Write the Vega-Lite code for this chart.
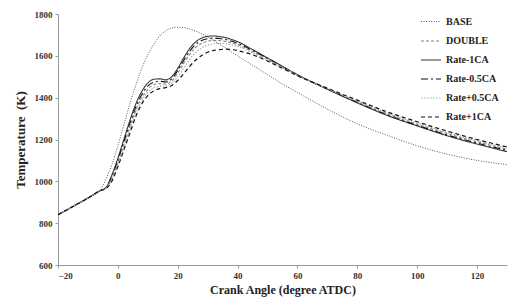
{
  "$schema": "https://vega.github.io/schema/vega-lite/v6.json",
  "width": 449,
  "height": 251,
  "autosize": {"type": "none"},
  "padding": {"left": 58, "top": 14, "right": 2, "bottom": 35},
  "background": "white",
  "config": {
    "view": {"stroke": null},
    "axis": {
      "grid": false,
      "labelFont": "Liberation Serif",
      "labelFontWeight": "bold",
      "labelFontSize": 9,
      "labelColor": "#333",
      "titleFont": "Liberation Serif",
      "titleFontWeight": "bold",
      "titleFontSize": 12,
      "titleColor": "#222",
      "domainColor": "#999",
      "tickColor": "#999",
      "tickSize": 3
    },
    "legend": {
      "labelFont": "Liberation Serif",
      "labelFontWeight": "bold",
      "labelFontSize": 10,
      "labelColor": "#222",
      "symbolType": "stroke",
      "symbolSize": 400,
      "rowPadding": 3
    }
  },
  "data": {"values": [
    {"series":"BASE","angle":-20,"temp":840},{"series":"BASE","angle":-15,"temp":880},{"series":"BASE","angle":-10,"temp":920},
    {"series":"BASE","angle":-6,"temp":957},{"series":"BASE","angle":-4,"temp":1010},{"series":"BASE","angle":-2,"temp":1080},{"series":"BASE","angle":0,"temp":1170},{"series":"BASE","angle":2,"temp":1270},{"series":"BASE","angle":4,"temp":1370},{"series":"BASE","angle":6,"temp":1460},{"series":"BASE","angle":8,"temp":1540},{"series":"BASE","angle":10,"temp":1605},{"series":"BASE","angle":12,"temp":1655},{"series":"BASE","angle":14,"temp":1695},{"series":"BASE","angle":16,"temp":1720},{"series":"BASE","angle":18,"temp":1733},{"series":"BASE","angle":20,"temp":1737},{"series":"BASE","angle":22,"temp":1735},{"series":"BASE","angle":24,"temp":1728},{"series":"BASE","angle":26,"temp":1718},{"series":"BASE","angle":28,"temp":1705},{"series":"BASE","angle":30,"temp":1690},{"series":"BASE","angle":32,"temp":1673},{"series":"BASE","angle":34,"temp":1655},{"series":"BASE","angle":36,"temp":1637},{"series":"BASE","angle":38,"temp":1618},{"series":"BASE","angle":40,"temp":1600},{"series":"BASE","angle":45,"temp":1555},{"series":"BASE","angle":50,"temp":1510},{"series":"BASE","angle":55,"temp":1465},{"series":"BASE","angle":60,"temp":1425},{"series":"BASE","angle":70,"temp":1345},{"series":"BASE","angle":80,"temp":1275},{"series":"BASE","angle":90,"temp":1220},{"series":"BASE","angle":100,"temp":1170},{"series":"BASE","angle":110,"temp":1130},{"series":"BASE","angle":120,"temp":1100},{"series":"BASE","angle":130,"temp":1080},

    {"series":"Rate-1CA","angle":-20,"temp":840},{"series":"Rate-1CA","angle":-15,"temp":880},{"series":"Rate-1CA","angle":-10,"temp":920},
    {"series":"Rate-1CA","angle":-6,"temp":955},{"series":"Rate-1CA","angle":-4,"temp":970},{"series":"Rate-1CA","angle":-2,"temp":1030},{"series":"Rate-1CA","angle":0,"temp":1110},{"series":"Rate-1CA","angle":2,"temp":1200},{"series":"Rate-1CA","angle":4,"temp":1290},{"series":"Rate-1CA","angle":6,"temp":1370},{"series":"Rate-1CA","angle":8,"temp":1430},{"series":"Rate-1CA","angle":10,"temp":1470},{"series":"Rate-1CA","angle":12,"temp":1488},{"series":"Rate-1CA","angle":14,"temp":1490},{"series":"Rate-1CA","angle":16,"temp":1485},{"series":"Rate-1CA","angle":18,"temp":1500},{"series":"Rate-1CA","angle":20,"temp":1540},{"series":"Rate-1CA","angle":22,"temp":1590},{"series":"Rate-1CA","angle":24,"temp":1635},{"series":"Rate-1CA","angle":26,"temp":1667},{"series":"Rate-1CA","angle":28,"temp":1685},{"series":"Rate-1CA","angle":30,"temp":1693},{"series":"Rate-1CA","angle":32,"temp":1695},{"series":"Rate-1CA","angle":34,"temp":1692},{"series":"Rate-1CA","angle":36,"temp":1687},{"series":"Rate-1CA","angle":38,"temp":1678},{"series":"Rate-1CA","angle":40,"temp":1668},{"series":"Rate-1CA","angle":45,"temp":1630},{"series":"Rate-1CA","angle":50,"temp":1590},{"series":"Rate-1CA","angle":55,"temp":1550},{"series":"Rate-1CA","angle":60,"temp":1510},{"series":"Rate-1CA","angle":70,"temp":1440},{"series":"Rate-1CA","angle":80,"temp":1375},{"series":"Rate-1CA","angle":90,"temp":1315},{"series":"Rate-1CA","angle":100,"temp":1265},{"series":"Rate-1CA","angle":110,"temp":1218},{"series":"Rate-1CA","angle":120,"temp":1178},{"series":"Rate-1CA","angle":130,"temp":1142},

    {"series":"Rate-0.5CA","angle":-20,"temp":840},{"series":"Rate-0.5CA","angle":-15,"temp":880},{"series":"Rate-0.5CA","angle":-10,"temp":920},
    {"series":"Rate-0.5CA","angle":-6,"temp":955},{"series":"Rate-0.5CA","angle":-4,"temp":968},{"series":"Rate-0.5CA","angle":-2,"temp":1022},{"series":"Rate-0.5CA","angle":0,"temp":1100},{"series":"Rate-0.5CA","angle":2,"temp":1188},{"series":"Rate-0.5CA","angle":4,"temp":1275},{"series":"Rate-0.5CA","angle":6,"temp":1355},{"series":"Rate-0.5CA","angle":8,"temp":1415},{"series":"Rate-0.5CA","angle":10,"temp":1455},{"series":"Rate-0.5CA","angle":12,"temp":1474},{"series":"Rate-0.5CA","angle":14,"temp":1478},{"series":"Rate-0.5CA","angle":16,"temp":1475},{"series":"Rate-0.5CA","angle":18,"temp":1490},{"series":"Rate-0.5CA","angle":20,"temp":1530},{"series":"Rate-0.5CA","angle":22,"temp":1578},{"series":"Rate-0.5CA","angle":24,"temp":1622},{"series":"Rate-0.5CA","angle":26,"temp":1655},{"series":"Rate-0.5CA","angle":28,"temp":1673},{"series":"Rate-0.5CA","angle":30,"temp":1682},{"series":"Rate-0.5CA","angle":32,"temp":1685},{"series":"Rate-0.5CA","angle":34,"temp":1683},{"series":"Rate-0.5CA","angle":36,"temp":1678},{"series":"Rate-0.5CA","angle":38,"temp":1670},{"series":"Rate-0.5CA","angle":40,"temp":1660},{"series":"Rate-0.5CA","angle":45,"temp":1625},{"series":"Rate-0.5CA","angle":50,"temp":1587},{"series":"Rate-0.5CA","angle":55,"temp":1548},{"series":"Rate-0.5CA","angle":60,"temp":1508},{"series":"Rate-0.5CA","angle":70,"temp":1441},{"series":"Rate-0.5CA","angle":80,"temp":1378},{"series":"Rate-0.5CA","angle":90,"temp":1318},{"series":"Rate-0.5CA","angle":100,"temp":1268},{"series":"Rate-0.5CA","angle":110,"temp":1222},{"series":"Rate-0.5CA","angle":120,"temp":1183},{"series":"Rate-0.5CA","angle":130,"temp":1148},

    {"series":"DOUBLE","angle":-20,"temp":840},{"series":"DOUBLE","angle":-15,"temp":880},{"series":"DOUBLE","angle":-10,"temp":920},
    {"series":"DOUBLE","angle":-6,"temp":955},{"series":"DOUBLE","angle":-4,"temp":967},{"series":"DOUBLE","angle":-2,"temp":1015},{"series":"DOUBLE","angle":0,"temp":1090},{"series":"DOUBLE","angle":2,"temp":1175},{"series":"DOUBLE","angle":4,"temp":1262},{"series":"DOUBLE","angle":6,"temp":1340},{"series":"DOUBLE","angle":8,"temp":1400},{"series":"DOUBLE","angle":10,"temp":1440},{"series":"DOUBLE","angle":12,"temp":1462},{"series":"DOUBLE","angle":14,"temp":1467},{"series":"DOUBLE","angle":16,"temp":1465},{"series":"DOUBLE","angle":18,"temp":1480},{"series":"DOUBLE","angle":20,"temp":1518},{"series":"DOUBLE","angle":22,"temp":1565},{"series":"DOUBLE","angle":24,"temp":1607},{"series":"DOUBLE","angle":26,"temp":1640},{"series":"DOUBLE","angle":28,"temp":1660},{"series":"DOUBLE","angle":30,"temp":1670},{"series":"DOUBLE","angle":32,"temp":1674},{"series":"DOUBLE","angle":34,"temp":1673},{"series":"DOUBLE","angle":36,"temp":1669},{"series":"DOUBLE","angle":38,"temp":1662},{"series":"DOUBLE","angle":40,"temp":1653},{"series":"DOUBLE","angle":45,"temp":1620},{"series":"DOUBLE","angle":50,"temp":1584},{"series":"DOUBLE","angle":55,"temp":1546},{"series":"DOUBLE","angle":60,"temp":1507},{"series":"DOUBLE","angle":70,"temp":1442},{"series":"DOUBLE","angle":80,"temp":1381},{"series":"DOUBLE","angle":90,"temp":1322},{"series":"DOUBLE","angle":100,"temp":1273},{"series":"DOUBLE","angle":110,"temp":1228},{"series":"DOUBLE","angle":120,"temp":1189},{"series":"DOUBLE","angle":130,"temp":1154},

    {"series":"Rate+0.5CA","angle":-20,"temp":840},{"series":"Rate+0.5CA","angle":-15,"temp":880},{"series":"Rate+0.5CA","angle":-10,"temp":920},
    {"series":"Rate+0.5CA","angle":-6,"temp":955},{"series":"Rate+0.5CA","angle":-4,"temp":966},{"series":"Rate+0.5CA","angle":-2,"temp":1008},{"series":"Rate+0.5CA","angle":0,"temp":1080},{"series":"Rate+0.5CA","angle":2,"temp":1162},{"series":"Rate+0.5CA","angle":4,"temp":1246},{"series":"Rate+0.5CA","angle":6,"temp":1325},{"series":"Rate+0.5CA","angle":8,"temp":1385},{"series":"Rate+0.5CA","angle":10,"temp":1425},{"series":"Rate+0.5CA","angle":12,"temp":1447},{"series":"Rate+0.5CA","angle":14,"temp":1455},{"series":"Rate+0.5CA","angle":16,"temp":1456},{"series":"Rate+0.5CA","angle":18,"temp":1468},{"series":"Rate+0.5CA","angle":20,"temp":1500},{"series":"Rate+0.5CA","angle":22,"temp":1542},{"series":"Rate+0.5CA","angle":24,"temp":1583},{"series":"Rate+0.5CA","angle":26,"temp":1616},{"series":"Rate+0.5CA","angle":28,"temp":1638},{"series":"Rate+0.5CA","angle":30,"temp":1651},{"series":"Rate+0.5CA","angle":32,"temp":1658},{"series":"Rate+0.5CA","angle":34,"temp":1660},{"series":"Rate+0.5CA","angle":36,"temp":1658},{"series":"Rate+0.5CA","angle":38,"temp":1653},{"series":"Rate+0.5CA","angle":40,"temp":1645},{"series":"Rate+0.5CA","angle":45,"temp":1614},{"series":"Rate+0.5CA","angle":50,"temp":1580},{"series":"Rate+0.5CA","angle":55,"temp":1543},{"series":"Rate+0.5CA","angle":60,"temp":1506},{"series":"Rate+0.5CA","angle":70,"temp":1443},{"series":"Rate+0.5CA","angle":80,"temp":1384},{"series":"Rate+0.5CA","angle":90,"temp":1327},{"series":"Rate+0.5CA","angle":100,"temp":1279},{"series":"Rate+0.5CA","angle":110,"temp":1234},{"series":"Rate+0.5CA","angle":120,"temp":1195},{"series":"Rate+0.5CA","angle":130,"temp":1160},

    {"series":"Rate+1CA","angle":-20,"temp":840},{"series":"Rate+1CA","angle":-15,"temp":880},{"series":"Rate+1CA","angle":-10,"temp":920},
    {"series":"Rate+1CA","angle":-6,"temp":955},{"series":"Rate+1CA","angle":-4,"temp":965},{"series":"Rate+1CA","angle":-2,"temp":1000},{"series":"Rate+1CA","angle":0,"temp":1070},{"series":"Rate+1CA","angle":2,"temp":1150},{"series":"Rate+1CA","angle":4,"temp":1230},{"series":"Rate+1CA","angle":6,"temp":1310},{"series":"Rate+1CA","angle":8,"temp":1370},{"series":"Rate+1CA","angle":10,"temp":1410},{"series":"Rate+1CA","angle":12,"temp":1432},{"series":"Rate+1CA","angle":14,"temp":1443},{"series":"Rate+1CA","angle":16,"temp":1448},{"series":"Rate+1CA","angle":18,"temp":1458},{"series":"Rate+1CA","angle":20,"temp":1482},{"series":"Rate+1CA","angle":22,"temp":1515},{"series":"Rate+1CA","angle":24,"temp":1550},{"series":"Rate+1CA","angle":26,"temp":1580},{"series":"Rate+1CA","angle":28,"temp":1602},{"series":"Rate+1CA","angle":30,"temp":1617},{"series":"Rate+1CA","angle":32,"temp":1626},{"series":"Rate+1CA","angle":34,"temp":1630},{"series":"Rate+1CA","angle":36,"temp":1632},{"series":"Rate+1CA","angle":38,"temp":1630},{"series":"Rate+1CA","angle":40,"temp":1625},{"series":"Rate+1CA","angle":45,"temp":1605},{"series":"Rate+1CA","angle":50,"temp":1575},{"series":"Rate+1CA","angle":55,"temp":1540},{"series":"Rate+1CA","angle":60,"temp":1505},{"series":"Rate+1CA","angle":70,"temp":1445},{"series":"Rate+1CA","angle":80,"temp":1388},{"series":"Rate+1CA","angle":90,"temp":1332},{"series":"Rate+1CA","angle":100,"temp":1285},{"series":"Rate+1CA","angle":110,"temp":1240},{"series":"Rate+1CA","angle":120,"temp":1200},{"series":"Rate+1CA","angle":130,"temp":1165}
  ]},
  "mark": {"type": "line", "interpolate": "monotone", "clip": true},
  "encoding": {
    "x": {
      "field": "angle", "type": "quantitative",
      "scale": {"domain": [-20, 130], "nice": false},
      "axis": {"values": [-20, 0, 20, 40, 60, 80, 100, 120], "format": "d", "title": "Crank Angle (degree ATDC)", "titlePadding": 4, "labelPadding": 3}
    },
    "y": {
      "field": "temp", "type": "quantitative",
      "scale": {"domain": [600, 1800], "nice": false},
      "axis": {"values": [600, 800, 1000, 1200, 1400, 1600, 1800], "format": "d", "title": "Temperature\u00a0\u00a0(K)", "titleFontSize": 13, "titlePadding": 7, "labelPadding": 3}
    },
    "color": {
      "field": "series", "type": "nominal",
      "scale": {
        "domain": ["BASE", "DOUBLE", "Rate-1CA", "Rate-0.5CA", "Rate+0.5CA", "Rate+1CA"],
        "range": ["#555555", "#808080", "#333333", "#111111", "#aaaaaa", "#111111"]
      },
      "legend": {"title": null, "orient": "none", "legendX": 362, "legendY": -3}
    },
    "strokeDash": {
      "field": "series", "type": "nominal",
      "scale": {
        "domain": ["BASE", "DOUBLE", "Rate-1CA", "Rate-0.5CA", "Rate+0.5CA", "Rate+1CA"],
        "range": [[1, 1.5], [3, 2], [1, 0], [7, 3, 2, 3], [1.5, 1.5], [4, 3]]
      },
      "legend": {"title": null, "orient": "none", "legendX": 362, "legendY": -3}
    },
    "strokeWidth": {
      "field": "series", "type": "nominal",
      "scale": {
        "domain": ["BASE", "DOUBLE", "Rate-1CA", "Rate-0.5CA", "Rate+0.5CA", "Rate+1CA"],
        "range": [1, 1.2, 1, 1.8, 1.2, 1.6]
      },
      "legend": {"title": null, "orient": "none", "legendX": 362, "legendY": -3}
    }
  }
}
